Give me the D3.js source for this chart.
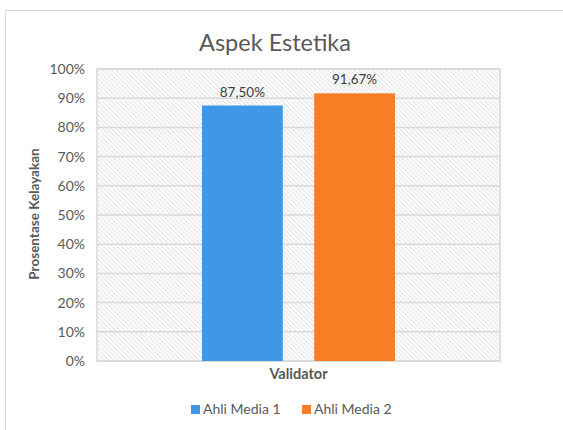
<!DOCTYPE html>
<html>
<head>
<meta charset="utf-8">
<script src="https://cdn.jsdelivr.net/npm/d3@7"></script>
<style>
  body { margin: 0; background: #fff; }
  text { font-family: Lato, "Open Sans", sans-serif; }
</style>
</head>
<body>
<svg id="chart" width="563" height="430"></svg>
<script>
var series = ['Ahli Media 1', 'Ahli Media 2']
var values = [87.50, 91.67]
var colors = ['#3f98e6', '#f87e26']
var category = 'Validator'
var yTicks = [0, 10, 20, 30, 40, 50, 60, 70, 80, 90, 100]

var svg = d3.select('#chart')
var margin = {left: 97, right: 63, top: 69, bottom: 69}
var width = 563 - margin.left - margin.right
var height = 430 - margin.top - margin.bottom

// outer chart frame
svg.append('rect')
  .attr('x', 5.5).attr('y', 10.5).attr('width', 600).attr('height', 500)
  .attr('fill', '#fff').attr('stroke', '#d9d9d9')

var defs = svg.append('defs')
var pat = defs.append('pattern')
  .attr('id', 'hatch').attr('patternUnits', 'userSpaceOnUse')
  .attr('width', 4.5).attr('height', 4.5)
pat.append('rect').attr('width', 4.5).attr('height', 4.5).attr('fill', '#fff')
pat.append('path')
  .attr('d', 'M-1,-1 L5.5,5.5 M-1,3.5 L1,5.5 M3.5,-1 L5.5,1')
  .attr('stroke', '#e0e0e0').attr('stroke-width', 1.1)

var g = svg.append('g').attr('transform', `translate(${margin.left},${margin.top})`)

var y = d3.scaleLinear().domain([0, 100]).range([height, 0])
var x0 = d3.scaleBand().domain([category]).range([0, width])
var x1 = d3.scaleBand().domain(series).range([105, 298]).paddingInner(0.28)

g.append('rect')
  .attr('width', width).attr('height', height)
  .attr('fill', 'url(#hatch)').attr('stroke', '#d9d9d9').attr('stroke-width', 1.5)

g.selectAll('line.grid').data(yTicks).join('line')
  .attr('class', 'grid')
  .attr('x1', 0).attr('x2', width)
  .attr('y1', d => y(d)).attr('y2', d => y(d))
  .attr('stroke', '#d9d9d9').attr('stroke-width', 1.5)

var yAxis = g.append('g')
  .call(d3.axisLeft(y).tickValues(yTicks).tickFormat(d => d + '%').tickSize(0).tickPadding(12))
yAxis.select('.domain').remove()
yAxis.selectAll('text').attr('fill', '#595959').attr('font-size', 14)
  .style('font-family', 'Lato, sans-serif')

g.selectAll('rect.bar').data(values).join('rect')
  .attr('class', 'bar')
  .attr('x', (d, i) => x0(category) + x1(series[i]))
  .attr('width', x1.bandwidth())
  .attr('y', d => y(d))
  .attr('height', d => height - y(d))
  .attr('fill', (d, i) => colors[i])

g.selectAll('text.lbl').data(values).join('text')
  .attr('class', 'lbl')
  .attr('x', (d, i) => x1(series[i]) + x1.bandwidth() / 2)
  .attr('y', d => y(d) - 9)
  .attr('text-anchor', 'middle')
  .attr('font-size', 13.5).attr('fill', '#404040')
  .text(d => d3.format('.2f')(d).replace('.', ',') + '%')

svg.append('text')
  .attr('x', 275).attr('y', 51)
  .attr('text-anchor', 'middle')
  .attr('font-size', 23.5).attr('fill', '#595959')
  .text('Aspek Estetika')

svg.append('text')
  .attr('x', margin.left + width / 2).attr('y', 379)
  .attr('text-anchor', 'middle')
  .attr('font-size', 14.5).attr('font-weight', 'bold').attr('fill', '#595959')
  .text(category)

svg.append('text')
  .attr('transform', `translate(39,214) rotate(-90)`)
  .attr('text-anchor', 'middle')
  .attr('font-size', 13.5).attr('font-weight', 'bold').attr('fill', '#595959')
  .text('Prosentase Kelayakan')

var legend = svg.append('g').attr('transform', 'translate(191,414)')
var lx = [0, 111]
var items = legend.selectAll('g').data(series).join('g')
  .attr('transform', (d, i) => `translate(${lx[i]},0)`)
items.append('rect')
  .attr('y', -9).attr('width', 9).attr('height', 9)
  .attr('fill', (d, i) => colors[i])
items.append('text')
  .attr('x', 12).attr('y', 0)
  .attr('font-size', 14).attr('fill', '#595959')
  .text(d => d)
</script>
</body>
</html>
